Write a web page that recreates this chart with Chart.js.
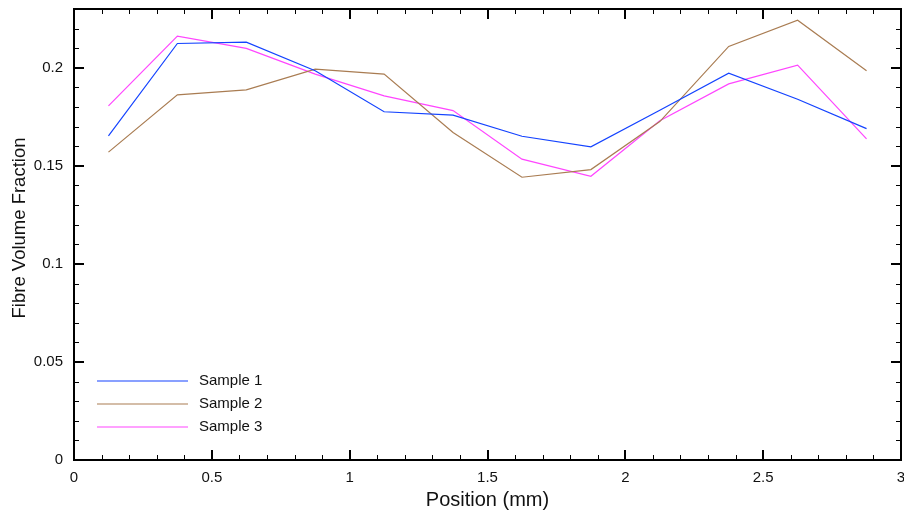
<!DOCTYPE html>
<html lang="en">
  <head>
    <meta charset="utf-8" />
    <title>Fibre volume fraction</title>
    <style>
      * {
        margin: 0;
        padding: 0;
      }
      body {
        background: white;
      }
      .chartBox {
        width: 904px;
        height: 514px;
      }
    </style>
  </head>
  <body>
    <div class="chartBox">
      <canvas id="myChart"></canvas>
    </div>

    <script src="https://cdn.jsdelivr.net/npm/chart.js"></script>

    <script>
      const positions = [0.125, 0.375, 0.625, 0.875, 1.125, 1.375, 1.625, 1.875, 2.125, 2.375, 2.625, 2.875];
      const sample1 = [0.1653, 0.2124, 0.2131, 0.1985, 0.1776, 0.1759, 0.1651, 0.1597, 0.1784, 0.1973, 0.1840, 0.1690];
      const sample2 = [0.1570, 0.1862, 0.1888, 0.1993, 0.1968, 0.1670, 0.1442, 0.1481, 0.1726, 0.2109, 0.2243, 0.1985];
      const sample3 = [0.1806, 0.2162, 0.2099, 0.1968, 0.1857, 0.1782, 0.1534, 0.1447, 0.1730, 0.1918, 0.2014, 0.1638];
      const seriesNames = ["Sample 1", "Sample 2", "Sample 3"];
      const xTicks = [0, 0.5, 1, 1.5, 2, 2.5, 3];
      const yTicks = [0, 0.05, 0.1, 0.15, 0.2];

      const FONT = '"Liberation Sans", Arial, Helvetica, sans-serif';
      const colors = ["#1443ff", "#a97c52", "#ff45ff"];

      const toPoints = (vals) => vals.map((v, i) => ({ x: positions[i], y: v }));

      // frame with inward ticks on all four sides, axis titles and legend
      const frameAndLegend = {
        id: "frameAndLegend",
        afterDatasetsDraw(chart) {
          const {
            ctx,
            chartArea: { top, bottom, left, right },
            scales: { x, y },
          } = chart;
          ctx.save();
          ctx.strokeStyle = "#000";

          // minor ticks
          ctx.lineWidth = 1;
          ctx.beginPath();
          for (let i = 1; i < 30; i++) {
            if (i % 5 === 0) continue;
            const px = Math.round(x.getPixelForValue(i / 10)) + 0.5;
            ctx.moveTo(px, bottom);
            ctx.lineTo(px, bottom - 5);
            ctx.moveTo(px, top);
            ctx.lineTo(px, top + 5);
          }
          for (let i = 1; i <= 22; i++) {
            if (i % 5 === 0) continue;
            const py = Math.round(y.getPixelForValue(i / 100)) + 0.5;
            ctx.moveTo(left, py);
            ctx.lineTo(left + 5, py);
            ctx.moveTo(right, py);
            ctx.lineTo(right - 5, py);
          }
          ctx.stroke();

          // major ticks
          ctx.lineWidth = 2;
          ctx.beginPath();
          xTicks.forEach((v) => {
            const px = Math.round(x.getPixelForValue(v));
            ctx.moveTo(px, bottom);
            ctx.lineTo(px, bottom - 10);
            ctx.moveTo(px, top);
            ctx.lineTo(px, top + 10);
          });
          yTicks.forEach((v) => {
            const py = Math.round(y.getPixelForValue(v));
            ctx.moveTo(left, py);
            ctx.lineTo(left + 10, py);
            ctx.moveTo(right, py);
            ctx.lineTo(right - 10, py);
          });
          ctx.stroke();

          ctx.strokeRect(left, top, right - left, bottom - top);

          // axis titles
          ctx.fillStyle = "#111";
          ctx.textAlign = "center";
          ctx.textBaseline = "middle";
          ctx.font = "20px " + FONT;
          ctx.fillText("Position (mm)", (left + right) / 2, 500);
          ctx.save();
          ctx.translate(20, 228);
          ctx.rotate(-Math.PI / 2);
          ctx.font = "18.5px " + FONT;
          ctx.fillText("Fibre Volume Fraction", 0, 0);
          ctx.restore();

          // legend
          ctx.font = "15px " + FONT;
          ctx.textAlign = "left";
          chart.data.datasets.forEach((ds, i) => {
            const ly = 381 + i * 23;
            ctx.strokeStyle = ds.borderColor;
            ctx.lineWidth = 1.2;
            ctx.beginPath();
            ctx.moveTo(97, ly);
            ctx.lineTo(188, ly);
            ctx.stroke();
            ctx.fillStyle = "#111";
            ctx.fillText(ds.label, 199, ly);
          });
          ctx.restore();
        },
      };

      const config = {
        type: "line",
        data: {
          datasets: [sample1, sample2, sample3].map((vals, i) => ({
            label: seriesNames[i],
            data: toPoints(vals),
            borderColor: colors[i],
            borderWidth: 1.2,
            pointRadius: 0,
            tension: 0,
            fill: false,
          })),
        },
        options: {
          responsive: true,
          maintainAspectRatio: false,
          animation: false,
          layout: {
            padding: { top: 9, right: 3, left: 0, bottom: 0 },
          },
          plugins: {
            legend: { display: false },
            tooltip: { enabled: false },
          },
          scales: {
            x: {
              type: "linear",
              min: 0,
              max: 3,
              grid: { display: false, drawTicks: false },
              border: { display: false },
              afterBuildTicks: (scale) => {
                scale.ticks = xTicks.map((v) => ({ value: v }));
              },
              afterFit: (scale) => {
                scale.height = 54;
                scale.paddingLeft = 0;
                scale.paddingRight = 0;
              },
              ticks: {
                padding: 9,
                color: "#111",
                font: { family: FONT, size: 15 },
                maxRotation: 0,
                callback: (v) => String(v),
              },
            },
            y: {
              min: 0,
              max: 0.23,
              grid: { display: false, drawTicks: false },
              border: { display: false },
              afterBuildTicks: (scale) => {
                scale.ticks = yTicks.map((v) => ({ value: v }));
              },
              afterFit: (scale) => {
                scale.width = 74;
                scale.paddingTop = 0;
                scale.paddingBottom = 0;
              },
              ticks: {
                padding: 11,
                color: "#111",
                font: { family: FONT, size: 15 },
                callback: (v) => String(v),
              },
            },
          },
        },
        plugins: [frameAndLegend],
      };

      const myChart = new Chart(document.getElementById("myChart"), config);
    </script>
  </body>
</html>
